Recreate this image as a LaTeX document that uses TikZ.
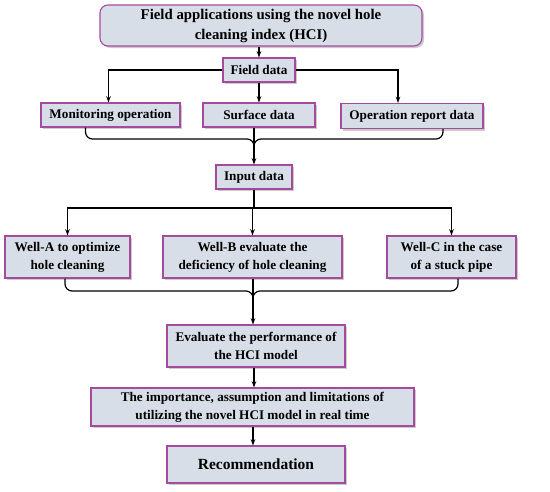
\documentclass[tikz,border=0pt]{standalone}
\usepackage{fontspec}
\setmainfont{Liberation Serif}
\usepackage{xcolor}
\usepackage{tikz}
\usetikzlibrary{arrows.meta, positioning, calc, shadows}
\definecolor{boxfill}{RGB}{215, 222, 232}
\definecolor{boxline}{RGB}{165, 75, 158}

\begin{document}
\begin{tikzpicture}[
    x=1pt, y=-1pt,
    block/.style={rectangle, draw=boxline, fill=boxfill, line width=1.1pt, align=center, inner sep=2pt, font=\fontsize{13.2}{18}\selectfont\bfseries, drop shadow={shadow xshift=2pt, shadow yshift=-2pt, fill=black!40}},
    titlebox/.style={block, rounded corners=8pt, font=\fontsize{14.8}{20}\selectfont\bfseries},
    flow/.style={-{Stealth[length=2.2mm, width=1.6mm]}, line width=1.2pt, black},
    brace/.style={line width=1.2pt, black, rounded corners=7pt}
]
\useasboundingbox (0,0) rectangle (550,491);

% Title (top)
\node[titlebox, minimum width=322pt, minimum height=41pt] (title) at (261,25.5) {Field applications using the novel hole\\cleaning index (HCI)};

% Field data
\node[block, minimum width=72pt, minimum height=24pt] (field) at (259,70) {Field data};

% Data sources (row 1)
\node[block, minimum width=139pt, minimum height=24pt] (monit) at (110.5,115) {Monitoring operation};
\node[block, minimum width=112pt, minimum height=24pt] (surf) at (259,115) {Surface data};
\node[block, minimum width=142pt, minimum height=25pt] (report) at (412,116) {Operation report data};

% Input data
\node[block, minimum width=76pt, minimum height=24pt] (input) at (254,177) {Input data};

% Wells (row 2)
\node[block, minimum width=125pt, minimum height=42pt] (wella) at (67.5,257) {Well-A to optimize\\hole cleaning};
\node[block, minimum width=179pt, minimum height=42pt] (wellb) at (252.5,257) {Well-B evaluate the\\deficiency of hole cleaning};
\node[block, minimum width=129pt, minimum height=42pt] (wellc) at (451.5,257) {Well-C in the case\\of a stuck pipe};

% Evaluation and results
\node[block, minimum width=178pt, minimum height=42pt] (eval) at (256,346) {Evaluate the performance of\\the HCI model};
\node[block, minimum width=323pt, minimum height=38pt] (limit) at (252.5,407) {The importance, assumption and limitations of\\utilizing the novel HCI model in real time};
\node[block, minimum width=178pt, minimum height=37pt, font=\fontsize{15.5}{18}\selectfont\bfseries] (recom) at (256,464.5) {Recommendation};

% Junctions
\coordinate (j1) at (254,139);
\coordinate (j2) at (254,208);
\coordinate (j3) at (253,291);

% Title to field data
\draw[flow] (field.north |- title.south) -- (field.north);

% Field data to sources
\draw[flow] (field.west) -| ([xshift=-2pt]monit.north);
\draw[flow] (field.south) -- (surf.north);
\draw[flow] (field.east) -| ([xshift=-14pt]report.north);

% Sources merge into input data
\draw[brace] ([xshift=-25pt]monit.south) |- (j1) -- ++(0,8);
\draw[brace] ([xshift=31pt]report.south) |- (j1) -- ++(0,8);
\draw[flow] (input.north |- surf.south) -- (input.north);

% Input data to wells
\draw[line width=1.2pt] (input.south) -- (j2);
\draw[flow] (j2) -| (wella.north);
\draw[flow] (j2) -| (wellb.north);
\draw[flow] (j2) -| (wellc.north);

% Wells merge into evaluation
\draw[brace] ([xshift=-2.5pt]wella.south) |- (j3) -- ++(0,8);
\draw[brace] ([xshift=6.5pt]wellc.south) |- (j3) -- ++(0,8);
\draw[flow] (j3 |- wellb.south) -- (j3 |- eval.north);

% Evaluation chain
\draw[flow] ([xshift=-2pt]eval.south) -- ([xshift=-2pt]eval.south |- limit.north);
\draw[flow] ([xshift=-3pt]recom.north |- limit.south) -- ([xshift=-3pt]recom.north);

\end{tikzpicture}
\end{document}
